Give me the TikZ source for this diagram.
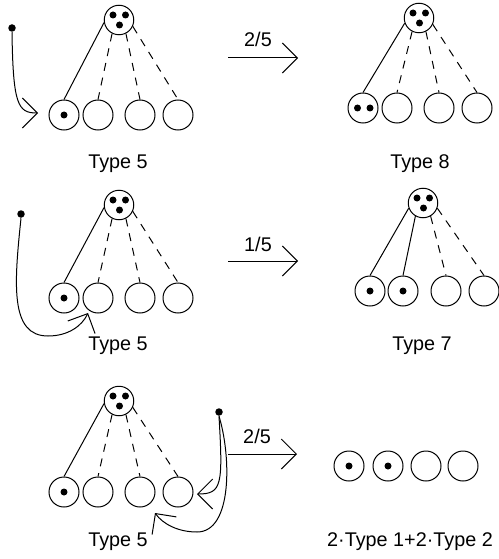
\documentclass[tikz,border=0pt]{standalone}
\usepackage{fontspec}
\setmainfont{Liberation Sans}
\usetikzlibrary{arrows.meta}
\newcommand\HubNode[3]{%
  \node[hub] (#1) at (#2,#3) {};
  \node[pip] (#1a) at (#2-6,#3-5) {};
  \node[pip] (#1b) at (#2+6.5,#3-5) {};
  \node[pip] (#1c) at (#2+0.5,#3+5) {};
}
\begin{document}
\begin{tikzpicture}[x=1pt,y=-1pt,line width=1pt,
  ball/.style={circle,draw,minimum size=30pt,inner sep=0pt},
  hub/.style={circle,draw,minimum size=29.5pt,inner sep=0pt},
  pip/.style={circle,fill,inner sep=0pt,minimum size=7pt},
  src/.style={circle,fill,inner sep=0pt,minimum size=7.5pt},
  dlink/.style={dash pattern=on 8pt off 7pt},
  tip/.style={-{Straight Barb[length=15pt,width=30pt]}},
  lbl/.style={anchor=base,font=\fontsize{19.8}{22}\selectfont,inner sep=0pt}]
\useasboundingbox (0,0) rectangle (498,559);

% ---------- Row 1 left ----------
\HubNode{H1}{119}{20}
\node[ball] (L1a) at (64,115) {};
\node[ball] (L1b) at (98,115) {};
\node[ball] (L1c) at (140,115) {};
\node[ball] (L1d) at (178,115) {};
\node[pip] (L1ap) at (64,115) {};
\draw (H1.190) -- (L1a.north);
\draw[dlink] (H1.243) -- (L1b.north);
\draw[dlink] (H1.297) -- (L1c.north);
\draw[dlink] (H1.335) -- (L1d.north);
\node[src] (D1) at (12,28) {};
\coordinate (T1) at (38,113);
\draw[tip] (D1.south) .. controls (13,105) and (18,113) .. (T1);
\node[lbl] (N1) at (118,168) {Type 5};

% ---------- Row 1 arrow ----------
\coordinate (A1s) at (228,58);
\coordinate (A1e) at (298,58);
\draw[tip] (A1s) -- (A1e);
\node[lbl] (P1) at (258,47) {2/5};

% ---------- Row 1 right ----------
\HubNode{H2}{419}{18}
\node[ball] (R1a) at (363,108) {};
\node[ball] (R1b) at (397,108) {};
\node[ball] (R1c) at (439,108) {};
\node[ball] (R1d) at (477,108) {};
\node[pip] (R1ap) at (357.5,108) {};
\node[pip] (R1aq) at (370,108) {};
\draw (H2.200) -- (R1a.north);
\draw[dlink] (H2.243) -- (R1b.north);
\draw[dlink] (H2.297) -- (R1c.north);
\draw[dlink] (H2.335) -- (R1d.north);
\node[lbl] (N2) at (420,168) {Type 8};

% ---------- Row 2 left ----------
\HubNode{H3}{119}{205}
\node[ball] (L2a) at (64,298) {};
\node[ball] (L2b) at (98,298) {};
\node[ball] (L2c) at (140,298) {};
\node[ball] (L2d) at (178,298) {};
\node[pip] (L2ap) at (64,298) {};
\draw (H3.190) -- (L2a.north);
\draw[dlink] (H3.243) -- (L2b.north);
\draw[dlink] (H3.297) -- (L2c.north);
\draw[dlink] (H3.335) -- (L2d.north);
\node[src] (D2) at (21,214) {};
\coordinate (T2) at (88,313);
\draw[tip] (D2.south) .. controls (14,285) and (10,336) .. (48,336)
  .. controls (68,336) and (82,326) .. (T2);
\node[lbl] (N3) at (118,350) {Type 5};

% ---------- Row 2 arrow ----------
\coordinate (A2s) at (228,261);
\coordinate (A2e) at (298,261);
\draw[tip] (A2s) -- (A2e);
\node[lbl] (P2) at (258,251) {1/5};

% ---------- Row 2 right ----------
\HubNode{H4}{423}{203}
\node[ball] (R2a) at (370,291) {};
\node[ball] (R2b) at (403,291) {};
\node[ball] (R2c) at (446,291) {};
\node[ball] (R2d) at (484,291) {};
\node[pip] (R2ap) at (370,291) {};
\node[pip] (R2bp) at (403,291) {};
\draw (H4.200) -- (R2a.north);
\draw (H4.240) -- (R2b.north);
\draw[dlink] (H4.300) -- (R2c.north);
\draw[dlink] (H4.340) -- (R2d.north);
\node[lbl] (N4) at (422,350) {Type 7};

% ---------- Row 3 left ----------
\HubNode{H5}{119}{401}
\node[ball] (L3a) at (64,492) {};
\node[ball] (L3b) at (98,492) {};
\node[ball] (L3c) at (140,492) {};
\node[ball] (L3d) at (178,492) {};
\node[pip] (L3ap) at (64,492) {};
\draw (H5.190) -- (L3a.north);
\draw[dlink] (H5.243) -- (L3b.north);
\draw[dlink] (H5.297) -- (L3c.north);
\draw[dlink] (H5.335) -- (L3d.north);
\node[src] (D3) at (219,412) {};
\coordinate (T3a) at (197,494);
\coordinate (T3b) at (155,513);
\draw[tip] (D3.south) .. controls (223,485) and (222,494) .. (T3a);
\draw[tip] (D3.south) .. controls (231,455) and (233,532) .. (197,532)
  .. controls (178,532) and (163,524) .. (T3b);
\node[lbl] (N5) at (118,546) {Type 5};

% ---------- Row 3 arrow ----------
\coordinate (A3s) at (228,454);
\coordinate (A3e) at (297,454);
\draw[tip] (A3s) -- (A3e);
\node[lbl] (P3) at (257,443) {2/5};

% ---------- Row 3 right ----------
\node[ball] (R3a) at (349,466) {};
\node[ball] (R3b) at (388,466) {};
\node[ball] (R3c) at (426,466) {};
\node[ball] (R3d) at (463,466) {};
\node[pip] (R3ap) at (349,466) {};
\node[pip] (R3bp) at (388,466) {};
\node[lbl] (N6) at (410,546) {2·Type 1+2·Type 2};
\end{tikzpicture}
\end{document}
